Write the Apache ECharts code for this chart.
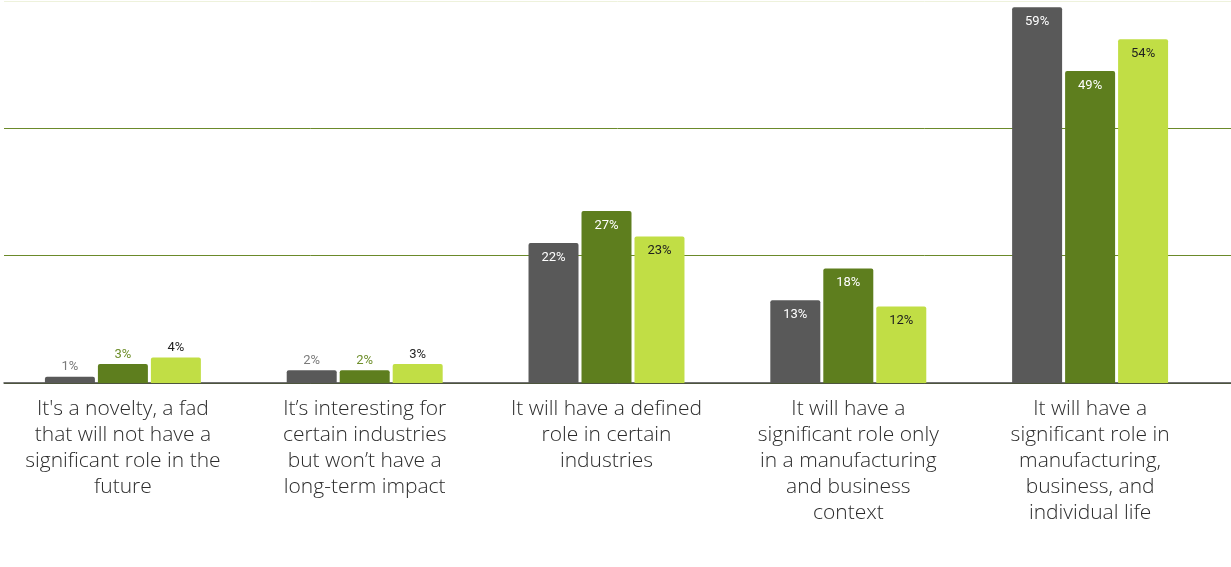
<!DOCTYPE html>
<html>
<head>
<meta charset="utf-8">
<style>
  html, body { margin: 0; padding: 0; background: #fff; }
  #chart { width: 1231px; height: 567px; }
</style>
<script src="https://cdn.jsdelivr.net/npm/echarts@6/dist/echarts.min.js"></script>
</head>
<body>
<div id="chart"></div>
<script>
// categories with the line breaks used in the picture
const categories = [
  "It's a novelty, a fad\nthat will not have a\nsignificant role in the\nfuture",
  "It\u2019s interesting for\ncertain industries\nbut won\u2019t have a\nlong-term impact",
  "It will have a defined\nrole in certain\nindustries",
  "It will have a\nsignificant role only\nin a manufacturing\nand business\ncontext",
  "It will have a\nsignificant role in\nmanufacturing,\nbusiness, and\nindividual life"
];
const seriesA = [1, 2, 22, 13, 59];
const seriesB = [3, 2, 27, 18, 49];
const seriesC = [4, 3, 23, 12, 54];

const barColors = ['#595959', '#5e7e1e', '#c1de45'];
const insideText = ['#ffffff', '#ffffff', '#1f1f1f'];
const outsideText = ['#7a7a7a', '#6f8f2c', '#1f1f1f'];

function makeData(values, idx) {
  return values.map(v => {
    if (v < 5) {
      return { value: v, label: { position: 'top', distance: 3, color: outsideText[idx], fontSize: 13 } };
    }
    return v;
  });
}

let chart = echarts.init(document.getElementById('chart'));
let option = {
  animation: false,
  grid: [
    // bars
    { left: 2, right: 20, top: 1, bottom: 184 },
    // full-width rules
    { left: 4, right: 0, top: 1, bottom: 184 }
  ],
  xAxis: [
    {
      type: 'category',
      gridIndex: 0,
      data: categories,
      axisTick: { show: false },
      axisLine: { show: false },
      axisLabel: {
        interval: 0,
        margin: 13,
        fontFamily: 'Open Sans',
        fontWeight: 300,
        fontSize: 21,
        lineHeight: 26,
        color: '#2b2b2b'
      }
    },
    {
      type: 'value',
      gridIndex: 1,
      min: 0,
      max: 1,
      axisLabel: { show: false },
      axisTick: { show: false },
      splitLine: { show: false },
      axisLine: { show: true, lineStyle: { color: '#444', width: 1.5 } }
    }
  ],
  yAxis: [
    {
      type: 'value',
      gridIndex: 0,
      min: 0,
      max: 60,
      interval: 20,
      show: false
    },
    {
      type: 'value',
      gridIndex: 1,
      min: 0,
      max: 60,
      interval: 20,
      axisLabel: { show: false },
      axisLine: { show: false },
      axisTick: { show: false },
      splitLine: {
        lineStyle: {
          color: ['#6b8a2a', '#6b8a2a', '#6b8a2a', '#eef2dc'],
          width: 1
        }
      }
    }
  ],
  series: [seriesA, seriesB, seriesC].map((vals, i) => ({
    type: 'bar',
    xAxisIndex: 0,
    yAxisIndex: 0,
    z: 3,
    data: makeData(vals, i),
    barGap: '6%',
    barCategoryGap: '35.5%',
    itemStyle: { color: barColors[i], borderRadius: [2, 2, 0, 0] },
    label: {
      show: true,
      position: 'insideTop',
      distance: 8,
      formatter: '{c}%',
      fontFamily: 'Roboto',
      fontSize: 13,
      color: insideText[i]
    }
  }))
};
chart.setOption(option);
window.addEventListener('resize', function () { chart.resize(); });
</script>
</body>
</html>
